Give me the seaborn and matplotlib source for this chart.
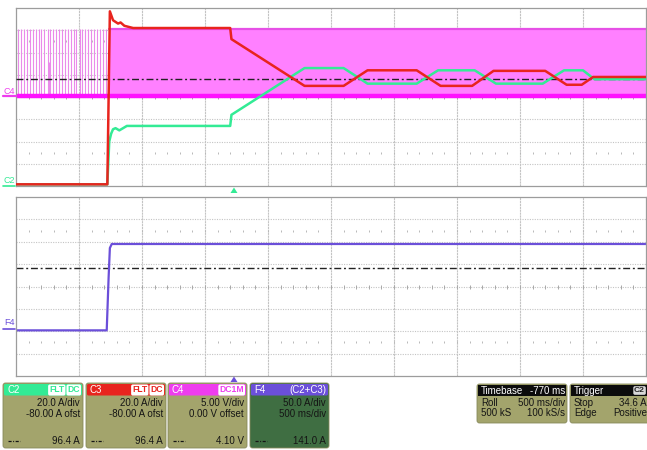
import numpy as np
import pandas as pd
import matplotlib
matplotlib.use("Agg")
import matplotlib.pyplot as plt
from matplotlib.patches import FancyBboxPatch, Rectangle, Polygon
import seaborn as sns

# ---------------- captured data (time in s, relative to trigger) ----------------
# C2 current (A)
c2_t = [-1.73, -1.005, -0.99, -0.975, -0.96, -0.94, -0.91, -0.85, -0.03, -0.02,
        0.56, 0.87, 1.06, 1.45, 1.62, 1.91, 2.08, 2.45, 2.62, 2.77, 2.86, 3.27]
c2_a = [1.5, 1.5, 40, 47, 51, 52, 50, 54, 54, 64,
        106, 106, 92, 92, 104, 104, 92, 92, 104, 104, 96, 96]

# C3 current (A)
c3_t = [-1.73, -1.005, -0.985, -0.96, -0.92, -0.90, -0.87, -0.80, -0.03, -0.02,
        0.56, 0.87, 1.06, 1.45, 1.64, 1.89, 2.06, 2.47, 2.64, 2.76, 2.85, 3.27]
c3_a = [1.5, 1.5, 157, 149, 146, 147, 144, 142, 142, 132,
        90, 90, 104, 104, 90, 90, 103.5, 103.5, 91, 91, 98, 98]

# C4 gate voltage (V): isolated pulses before start-up, continuous switching after
c4_pulse_t = [-1.714, -1.690, -1.667, -1.643, -1.619, -1.595, -1.571, -1.551,
              -1.528, -1.504, -1.480, -1.468, -1.460, -1.436, -1.413, -1.389,
              -1.365, -1.341, -1.317, -1.294, -1.270, -1.250, -1.226, -1.206,
              -1.182, -1.159, -1.135, -1.111, -1.087, -1.063, -1.040, -1.016]
c4_pulse_v = [15.3, 15.3, 15.3, 15.3, 15.3, 15.3, 15.3, 15.3,
              15.3, 15.3, 15.3, 7.9, 15.3, 15.3, 15.3, 15.3,
              15.3, 15.3, 15.3, 15.3, 15.3, 15.3, 15.3, 15.3,
              15.3, 15.3, 15.3, 15.3, 15.3, 15.3, 15.3, 15.3]
c4_band_t = [-0.995, 3.27]
c4_low = 0.3
c4_high = 15.3

# F4 = C2 + C3 (A)
f4_t = [-1.73, -1.01, -0.995, -0.985, -0.97, 3.27]
f4_a = [2, 2, 120, 186, 195, 195]

# cursors
cursor_c = 96.4     # A, on C2/C3
cursor_f = 141.0    # A, on F4

# timebase
t_center = 0.77
t_div = 0.5
XL = (t_center - 5 * t_div, t_center + 5 * t_div)

# ---------------- style ----------------
sns.set_theme(style="white")
plt.rcParams["font.family"] = ["Liberation Sans", "DejaVu Sans"]

W, H = 647, 450
fig = plt.figure(figsize=(W / 100, H / 100), dpi=100)


def rect(x0, y0, x1, y1):
    return [x0 / W, 1 - y1 / H, (x1 - x0) / W, (y1 - y0) / H]


GRID = "#c4c4c4"
SPINE = "#9c9c9c"
COL_C2 = "#33eb95"
COL_C3 = "#e8241e"
COL_C4 = "#ee3dee"
COL_F4 = "#6b4fd9"


def scope_grid(ax, y0, ydiv):
    ax.set_xlim(*XL)
    ax.set_ylim(y0, y0 + 8 * ydiv)
    ax.set_xticks([])
    ax.set_yticks([])
    for k in range(1, 10):
        ax.axvline(XL[0] + k * t_div, color=GRID, lw=0.8, ls=(0, (2, 0.6)),
                   zorder=0.5)
    for k in range(1, 8):
        ax.axhline(y0 + k * ydiv, color=GRID, lw=0.8, ls=(0, (1, 1.2)),
                   zorder=0.5)
    minor = XL[0] + np.arange(1, 50) * t_div / 5
    yc = y0 + 4 * ydiv
    ax.plot(minor, np.full(minor.size, yc), ls="none", marker="|", ms=3.5,
            mew=0.7, color="#a8a8a8", zorder=0.6)
    for yy in (yc - 2.5 * ydiv, yc + 2.5 * ydiv):
        ax.plot(minor, np.full(minor.size, yy), ls="none", marker="|", ms=1.6,
                mew=0.7, color="#b8b8b8", zorder=0.6)
    for s in ax.spines.values():
        s.set_color(SPINE)
        s.set_linewidth(0.9)


DASHDOT = (0, (5, 2, 1.4, 2))

# ---------------- upper display: C4 (V) with C2/C3 (A) on a twin scale ----------------
ax_v = fig.add_axes(rect(16, 8, 646, 186))
scope_grid(ax_v, -20, 5)

ax_v.vlines(c4_pulse_t, c4_low, c4_pulse_v, color="#ea8aea", lw=0.8, zorder=1)
ax_v.fill_between(c4_band_t, c4_low, c4_high, color="#ff80ff", lw=0, zorder=1.2)
ax_v.plot(c4_band_t, [c4_high, c4_high], color="#e650e6", lw=1.6, zorder=1.3)
ax_v.plot([XL[0], XL[1]], [c4_low, c4_low], color="#ff10ff", lw=3.2,
          solid_capstyle="butt", zorder=1.4)

ax_a = ax_v.twinx()
ax_a.set_ylim(0, 160)
ax_a.set_xlim(*XL)
ax_a.set_yticks([])
ax_a.patch.set_visible(False)
for s in ax_a.spines.values():
    s.set_visible(False)

ax_a.axhline(cursor_c, color="#222222", lw=1.0, ls=DASHDOT, zorder=1)
df_c2 = pd.DataFrame({"t": c2_t, "I": c2_a})
df_c3 = pd.DataFrame({"t": c3_t, "I": c3_a})
sns.lineplot(data=df_c2, x="t", y="I", ax=ax_a, color=COL_C2, lw=1.8,
             estimator=None, sort=False, zorder=2)
sns.lineplot(data=df_c3, x="t", y="I", ax=ax_a, color=COL_C3, lw=1.8,
             estimator=None, sort=False, zorder=3)
ax_a.set_xlabel("")
ax_a.set_ylabel("")
ax_v.set_xlabel("")
ax_v.set_ylabel("")

# ---------------- lower display: F4 ----------------
ax_f = fig.add_axes(rect(16, 197, 646, 376))
scope_grid(ax_f, -100, 50)
ax_f.axhline(cursor_f, color="#222222", lw=1.0, ls=DASHDOT, zorder=1)
df_f4 = pd.DataFrame({"t": f4_t, "I": f4_a})
sns.lineplot(data=df_f4, x="t", y="I", ax=ax_f, color=COL_F4, lw=1.6,
             estimator=None, sort=False, zorder=2)
ax_f.set_xlabel("")
ax_f.set_ylabel("")

# ---------------- overlay in pixel units: markers and readout boxes ----------------
ov = fig.add_axes([0, 0, 1, 1])
ov.set_xlim(0, W)
ov.set_ylim(H, 0)
ov.axis("off")
ov.patch.set_visible(False)

# channel ground markers on the left
ov.text(4, 91, "C4", color=COL_C4, fontsize=6.5, va="center", ha="left")
ov.plot([3, 16], [95.5, 95.5], color=COL_C4, lw=1.6)
ov.text(4, 180.5, "C2", color=COL_C2, fontsize=6.5, va="center", ha="left")
ov.plot([3, 15], [186, 186], color=COL_C2, lw=1.2)
ov.text(4, 322.5, "F4", color=COL_F4, fontsize=6.5, va="center", ha="left")
ov.plot([3, 15], [328.5, 328.5], color=COL_F4, lw=1.2)

# trigger position markers (t = 0)
def x_of(t):
    return 16 + (t - XL[0]) / (XL[1] - XL[0]) * 630


xt = x_of(0.0)
ov.add_patch(Polygon([[xt - 3.5, 193], [xt + 3.5, 193], [xt, 187.5]],
                     closed=True, fc=COL_C2, ec="none"))
ov.add_patch(Polygon([[xt - 3.5, 382], [xt + 3.5, 382], [xt, 376.5]],
                     closed=True, fc=COL_F4, ec="none"))

BODY = "#a3a46c"
TXT = "#151515"
FS = 7


def readout(x0, x1, head, name, badges, lines, value, head_col, body_col,
            y0=383, y1=448):
    ov.add_patch(FancyBboxPatch((x0, y0), x1 - x0, y1 - y0,
                                boxstyle="round,pad=0,rounding_size=2.5",
                                fc=body_col, ec="#86885a", lw=0.6))
    ov.add_patch(FancyBboxPatch((x0 + 1, y0 + 1), x1 - x0 - 2, 11.5,
                                boxstyle="round,pad=0,rounding_size=1.5",
                                fc=head_col, ec="none"))
    ov.text(x0 + 4, y0 + 7, name, color="white", fontsize=FS, va="center")
    xr = x1 - 3
    for b in reversed(badges):
        ov.text(xr, y0 + 7, b, color=head_col, fontsize=6.2, va="center",
                ha="right", fontweight="bold",
                bbox=dict(boxstyle="round,pad=0.12,rounding_size=0.2",
                          fc="white", ec="none"))
        xr -= 4.8 * len(b) + 6
    if head:
        ov.text(x1 - 3, y0 + 7, head, color="white", fontsize=FS,
                va="center", ha="right")
    for i, ln in enumerate(lines):
        ov.text(x1 - 3, y0 + 20 + 11 * i, ln, color=TXT, fontsize=FS,
                va="center", ha="right")
    ov.plot([x0 + 5, x0 + 17], [y0 + 58, y0 + 58], color=TXT, lw=0.9,
            ls=(0, (2.5, 1.2, 0.8, 1.2)))
    ov.text(x1 - 3, y0 + 58, value, color=TXT, fontsize=FS, va="center",
            ha="right")


readout(3, 83, None, "C2", ["FLT", "DC"], ["20.0 A/div", "-80.00 A ofst"],
        "96.4 A", COL_C2, BODY)
readout(86, 166, None, "C3", ["FLT", "DC"], ["20.0 A/div", "-80.00 A ofst"],
        "96.4 A", COL_C3, BODY)
readout(168, 247, None, "C4", ["DC1M"], ["5.00 V/div", "0.00 V offset"],
        "4.10 V", COL_C4, BODY)
readout(250, 329, "(C2+C3)", "F4", [], ["50.0 A/div", "500 ms/div"],
        "141.0 A", COL_F4, "#3f6e42")


def status(x0, x1, title, right, rows, badge=None, y0=384, y1=423):
    ov.add_patch(FancyBboxPatch((x0, y0), x1 - x0, y1 - y0,
                                boxstyle="round,pad=0,rounding_size=2.5",
                                fc=BODY, ec="#86885a", lw=0.6, clip_on=True))
    ov.add_patch(Rectangle((x0 + 1, y0 + 1), x1 - x0 - 2, 11,
                           fc="#0c0c0c", ec="none"))
    ov.text(x0 + 4, y0 + 6.5, title, color="white", fontsize=FS, va="center")
    if right:
        ov.text(x1 - 2, y0 + 6.5, right, color="white", fontsize=FS,
                va="center", ha="right")
    if badge:
        ov.text(645, y0 + 6.5, badge, color="#222222", fontsize=6,
                va="center", ha="right", fontweight="bold",
                bbox=dict(boxstyle="round,pad=0.1,rounding_size=0.2",
                          fc="#d8d8d8", ec="none"))
    for i, (l, r) in enumerate(rows):
        ov.text(x0 + 4, y0 + 18.5 + 11 * i, l, color=TXT, fontsize=FS,
                va="center")
        ov.text(min(x1 - 2, 647), y0 + 18.5 + 11 * i, r, color=TXT,
                fontsize=FS, va="center", ha="right")


status(477, 567, "Timebase", "-770 ms",
       [("Roll", "500 ms/div"), ("500 kS", "100 kS/s")])
status(570, 652, "Trigger", None,
       [("Stop", "34.6 A"), ("Edge", "Positive")], badge="C2")

fig.savefig("out.png", dpi=100)
